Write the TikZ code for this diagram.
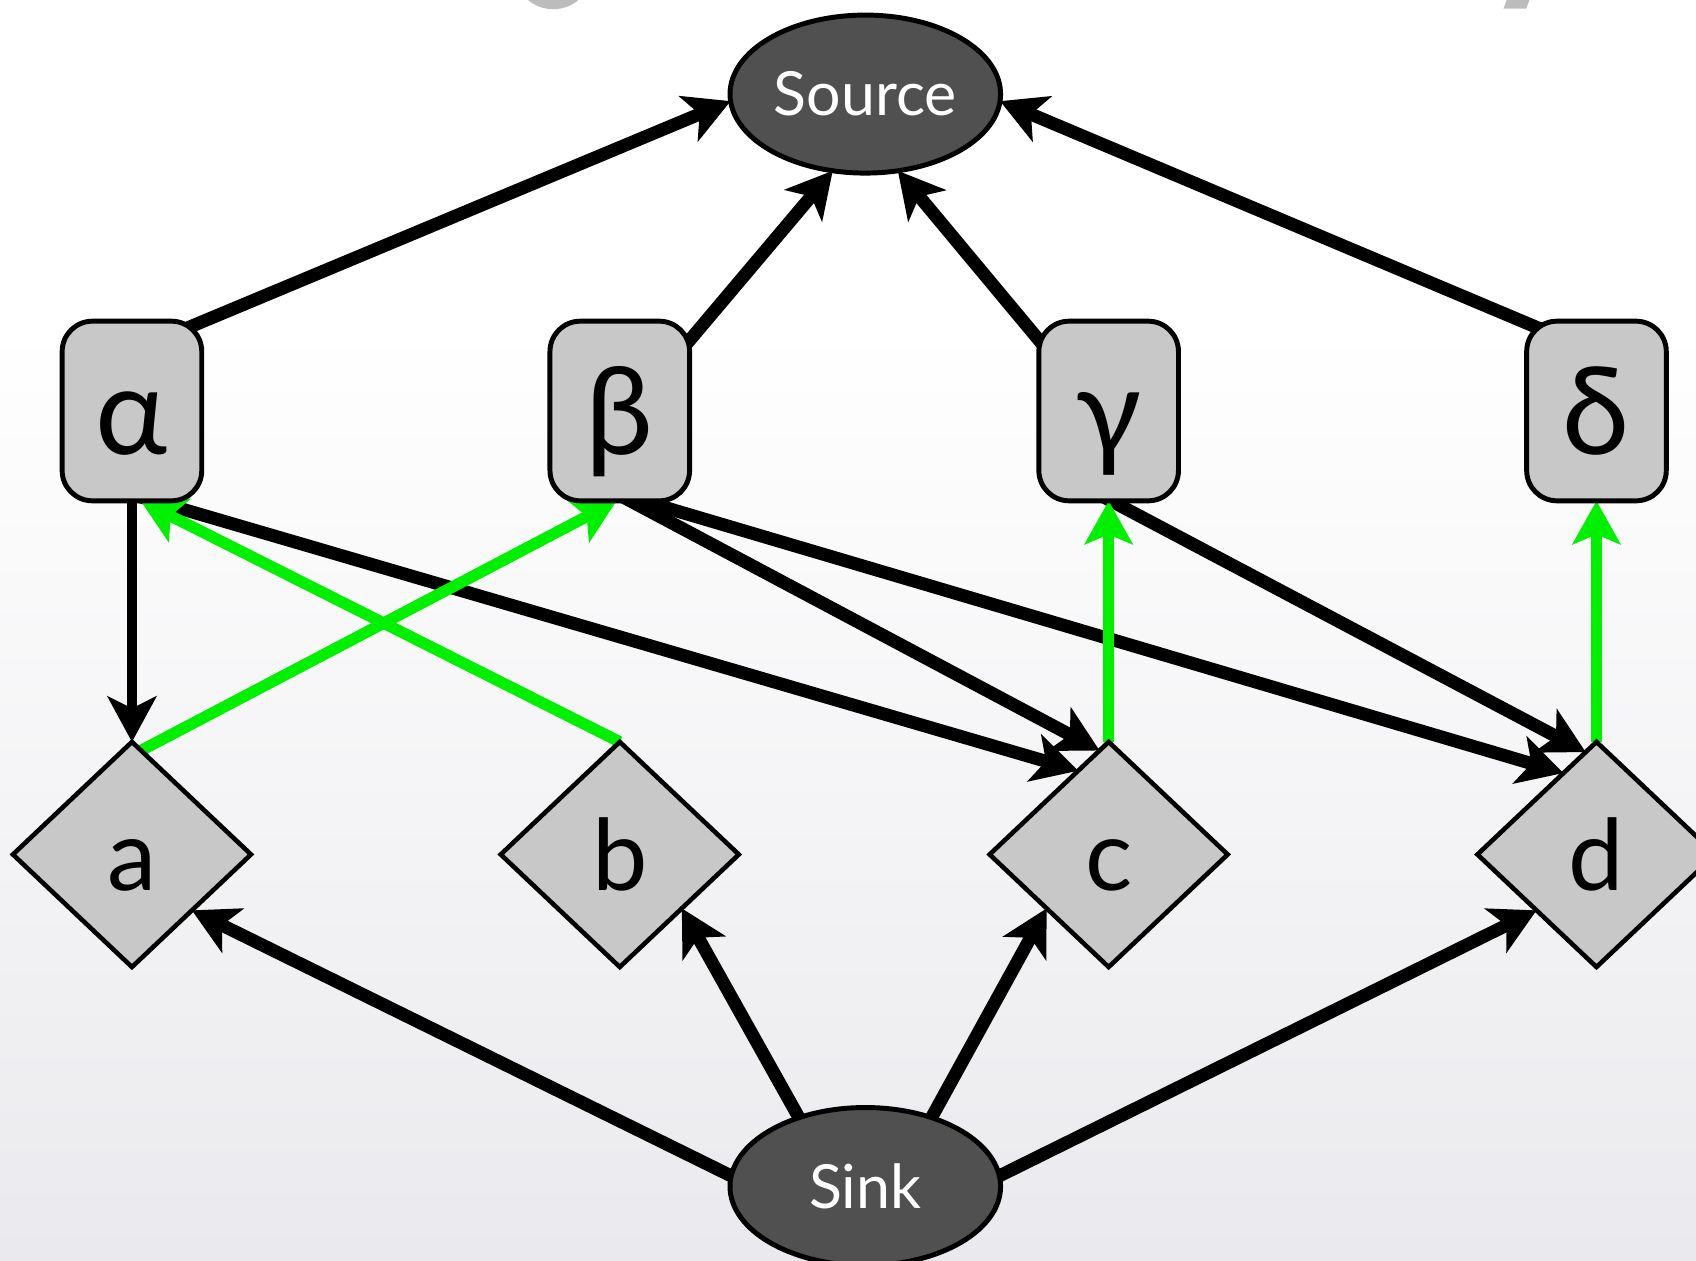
\documentclass[tikz,border=0pt]{standalone}
\usepackage{fontspec}
\setmainfont{Lato}
\usetikzlibrary{shapes.geometric,arrows.meta,calc}
\pgfdeclarelayer{bglayer}
\pgfdeclarelayer{edgelayer}
\pgfsetlayers{bglayer,edgelayer,main}
\definecolor{boxgray}{RGB}{200,200,200}
\definecolor{ovalgray}{RGB}{80,80,80}
\definecolor{edgegreen}{RGB}{0,240,0}
\definecolor{bgbottom}{RGB}{234,234,238}
\definecolor{titlegray}{RGB}{188,188,188}
\begin{document}
\begin{tikzpicture}[x=0.01cm,y=-0.01cm,
  oval/.style={ellipse, draw=black, line width=1.3pt, fill=ovalgray, text=white,
    minimum width=2.5cm, minimum height=1.46cm, inner sep=0pt, outer sep=0pt,
    font=\fontsize{16}{18}\selectfont},
  greekbox/.style={rectangle, rounded corners=0.28cm, draw=black, line width=1.3pt,
    fill=boxgray, minimum width=1.29cm, minimum height=1.66cm, inner sep=0pt,
    outer sep=0pt, font=\fontsize{32}{36}\selectfont, text height=23pt, text depth=0pt},
  leafbox/.style={diamond, draw=black, line width=1.2pt, fill=boxgray,
    minimum width=2.2cm, minimum height=2.08cm, inner sep=0pt, outer sep=0pt,
    font=\fontsize{26}{30}\selectfont, text height=19pt, text depth=0pt},
  blackedge/.style={draw=black, line width=3.4pt,
    -{Stealth[length=0.42cm,width=0.45cm,inset=0.11cm]}},
  thinedge/.style={blackedge, line width=2.7pt},
  greenedge/.style={draw=edgegreen, line width=3pt,
    -{Stealth[length=0.4cm,width=0.44cm,inset=0.09cm]}},
]
\useasboundingbox (0,0) rectangle (1568,1165);

\begin{pgfonlayer}{bglayer}
  \fill[white] (0,0) rectangle (1568,1165);
  \shade[top color=white, bottom color=bgbottom] (0,300) rectangle (1568,1165);
  \fill[titlegray] (511.5,-25) ellipse [x radius=0.35cm, y radius=0.335cm];
  \fill[titlegray] (1393,0) -- (1414,0) -- (1411,8) -- (1390,8) -- cycle;
\end{pgfonlayer}

\node[oval] (source) at (800,87) {Source};
\node[oval] (sink) at (800,1097) {Sink};

\node[greekbox] (alpha) at (122,380) {α};
\node[greekbox] (beta) at (573,380) {β};
\node[greekbox] (gamma) at (1025,380) {γ};
\node[greekbox] (delta) at (1476,380) {δ};

\node[leafbox] (a) at (122,790) {a};
\node[leafbox] (b) at (573,790) {b};
\node[leafbox] (c) at (1025,790) {c};
\node[leafbox] (d) at (1476,790) {d};

\begin{pgfonlayer}{edgelayer}
  \draw[blackedge] ($(alpha)+(23,-65)$) -- (source.183);
  \draw[blackedge] ($(beta)+(44,-41)$) -- (source.247);
  \draw[blackedge] ($(gamma)+(-44,-41)$) -- (source.293);
  \draw[blackedge] ($(delta)+(-26,-65)$) -- (source.357);
  \draw[thinedge] ($(alpha)+(0,60)$) -- (a.north);
  \draw[blackedge] ($(alpha)+(3,78)$) -- (c.110);
  \draw[blackedge] ($(beta)+(-13,71)$) -- (c.95);
  \draw[blackedge] ($(beta)+(-13,73)$) -- (d.112);
  \draw[blackedge] ($(gamma)+(-15,74)$) -- (d.96);
  \draw[blackedge] ($(sink)+(-100,2)$) -- (a.317);
  \draw[blackedge] ($(sink)+(-52,-47)$) -- (b.319);
  \draw[blackedge] ($(sink)+(52,-47)$) -- (c.221);
  \draw[blackedge] ($(sink)+(100,2)$) -- (d.223);
  \draw[greenedge] (a.85) -- ($(beta.south)+(-3,0)$);
  \draw[greenedge] (b.north) -- ($(alpha.south)+(8,0)$);
  \draw[greenedge] (c.north) -- (gamma.south);
  \draw[greenedge] (d.north) -- (delta.south);
\end{pgfonlayer}
\end{tikzpicture}
\end{document}
